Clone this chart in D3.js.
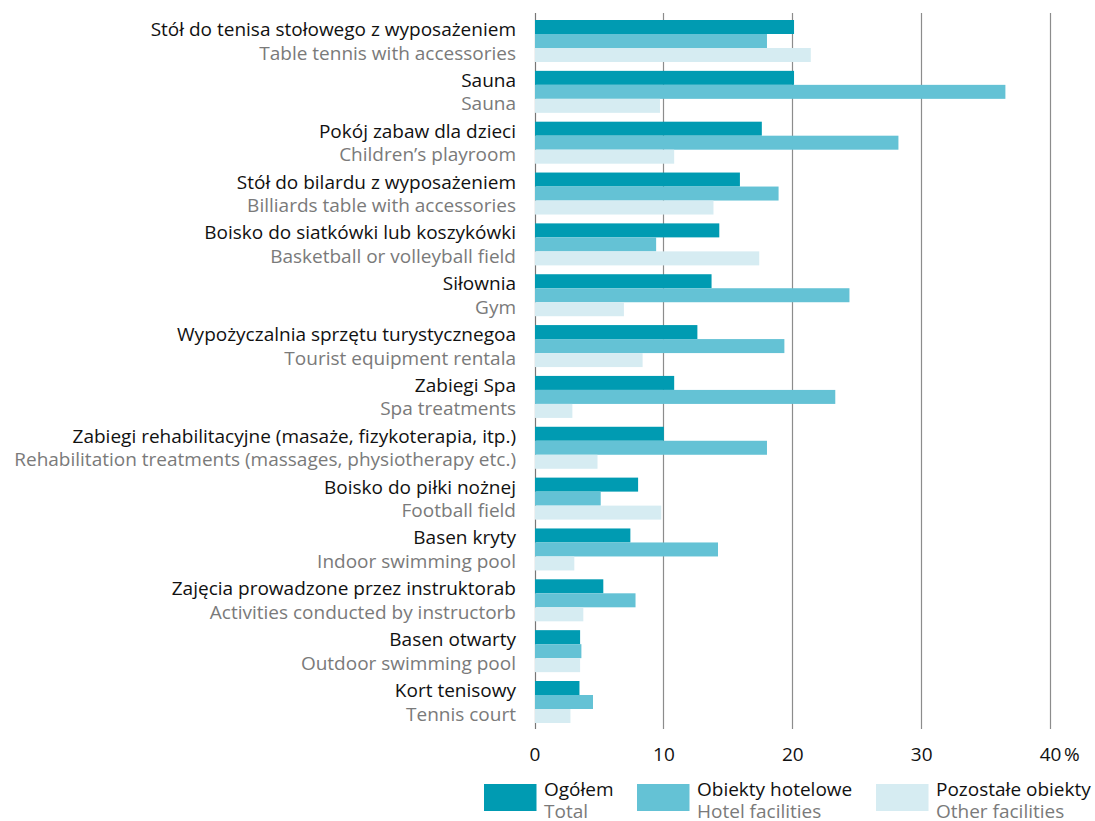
<!DOCTYPE html>
<html>
<head>
<meta charset="utf-8">
<script src="https://cdn.jsdelivr.net/npm/d3@7"></script>
<style>
  body { margin: 0; background: #fff; }
  svg { display: block; font-family: "Open Sans", sans-serif; }
</style>
</head>
<body>
<svg width="1095" height="821"></svg>
<script>
const labelsPl = [
  'Stół do tenisa stołowego z wyposażeniem',
  'Sauna',
  'Pokój zabaw dla dzieci',
  'Stół do bilardu z wyposażeniem',
  'Boisko do siatkówki lub koszykówki',
  'Siłownia',
  'Wypożyczalnia sprzętu turystycznegoa',
  'Zabiegi Spa',
  'Zabiegi rehabilitacyjne (masaże, fizykoterapia, itp.)',
  'Boisko do piłki nożnej',
  'Basen kryty',
  'Zajęcia prowadzone przez instruktorab',
  'Basen otwarty',
  'Kort tenisowy'
];
const labelsEn = [
  'Table tennis with accessories',
  'Sauna',
  'Children’s playroom',
  'Billiards table with accessories',
  'Basketball or volleyball field',
  'Gym',
  'Tourist equipment rentala',
  'Spa treatments',
  'Rehabilitation treatments (massages, physiotherapy etc.)',
  'Football field',
  'Indoor swimming pool',
  'Activities conducted by instructorb',
  'Outdoor swimming pool',
  'Tennis court'
];
const total = [20.1, 20.1, 17.6, 15.9, 14.3, 13.7, 12.6, 10.8, 10.0, 8.0, 7.4, 5.3, 3.5, 3.45];
const hotel = [18.0, 36.5, 28.2, 18.9, 9.4, 24.4, 19.35, 23.3, 18.0, 5.1, 14.2, 7.8, 3.6, 4.5];
const other = [21.4, 9.7, 10.8, 13.85, 17.4, 6.9, 8.35, 2.9, 4.85, 9.8, 3.05, 3.75, 3.5, 2.75];
const ticks = [0, 10, 20, 30, 40];

const series = [
  { key: 'total', pl: 'Ogółem', en: 'Total', color: '#009bb2', values: total },
  { key: 'hotel', pl: 'Obiekty hotelowe', en: 'Hotel facilities', color: '#64c2d5', values: hotel },
  { key: 'other', pl: 'Pozostałe obiekty', en: 'Other facilities', color: '#d6ecf2', values: other }
];

const svg = d3.select('svg');

const x = d3.scaleLinear().domain([0, 40]).range([534.5, 1050]);
const y = d3.scaleBand().domain(d3.range(labelsPl.length)).range([20, 723]).paddingInner(0.174);
const ySub = d3.scaleBand().domain(series.map((s) => s.key)).range([0, y.bandwidth()]);

// gridlines
svg.append('g')
  .selectAll('line')
  .data(ticks)
  .enter()
  .append('line')
  .attr('x1', (d) => Math.round(x(d)) + 0.5)
  .attr('x2', (d) => Math.round(x(d)) + 0.5)
  .attr('y1', 13)
  .attr('y2', 729)
  .attr('stroke', (d) => (d === 0 ? '#777' : '#8c8c8c'))
  .attr('stroke-width', 1.2);

// bars
const groups = svg.append('g')
  .selectAll('g')
  .data(labelsPl)
  .enter()
  .append('g')
  .attr('transform', (d, i) => `translate(0,${y(i)})`);

series.forEach((s) => {
  groups.append('rect')
    .attr('x', x(0) + 0.5)
    .attr('y', ySub(s.key))
    .attr('height', ySub.bandwidth())
    .attr('width', (d, i) => x(s.values[i]) - x(0))
    .attr('fill', s.color);
});

// category labels
const labelSize = 19;
groups.append('text')
  .attr('x', 516)
  .attr('y', 16)
  .attr('text-anchor', 'end')
  .attr('font-size', labelSize)
  .attr('fill', '#111')
  .text((d) => d);

groups.append('text')
  .attr('x', 516)
  .attr('y', 39.5)
  .attr('text-anchor', 'end')
  .attr('font-size', labelSize)
  .attr('fill', '#7a7a7a')
  .text((d, i) => labelsEn[i]);

// x axis labels
const xAxis = svg.append('g')
  .attr('transform', 'translate(0,761)')
  .call(d3.axisBottom(x).tickValues(ticks).tickSize(0).tickFormat((d) => d))
  .call((g) => g.select('.domain').remove());

xAxis.selectAll('text')
  .attr('y', 0)
  .attr('dy', 0)
  .attr('font-size', 19)
  .attr('font-family', '"Open Sans", sans-serif')
  .attr('fill', '#111');

svg.append('text')
  .attr('x', x(40) + 14)
  .attr('y', 761)
  .attr('font-size', 19)
  .attr('fill', '#111')
  .text('%');

// legend
const legendX = [484, 637, 876];
const legend = svg.append('g')
  .selectAll('g')
  .data(series)
  .enter()
  .append('g')
  .attr('transform', (d, i) => `translate(${legendX[i]},784)`);

legend.append('rect')
  .attr('width', 52.5)
  .attr('height', 27)
  .attr('fill', (d) => d.color);

legend.append('text')
  .attr('x', 60)
  .attr('y', 12)
  .attr('font-size', 19)
  .attr('fill', '#111')
  .text((d) => d.pl);

legend.append('text')
  .attr('x', 60)
  .attr('y', 34)
  .attr('font-size', 19)
  .attr('fill', '#7a7a7a')
  .text((d) => d.en);
</script>
</body>
</html>
